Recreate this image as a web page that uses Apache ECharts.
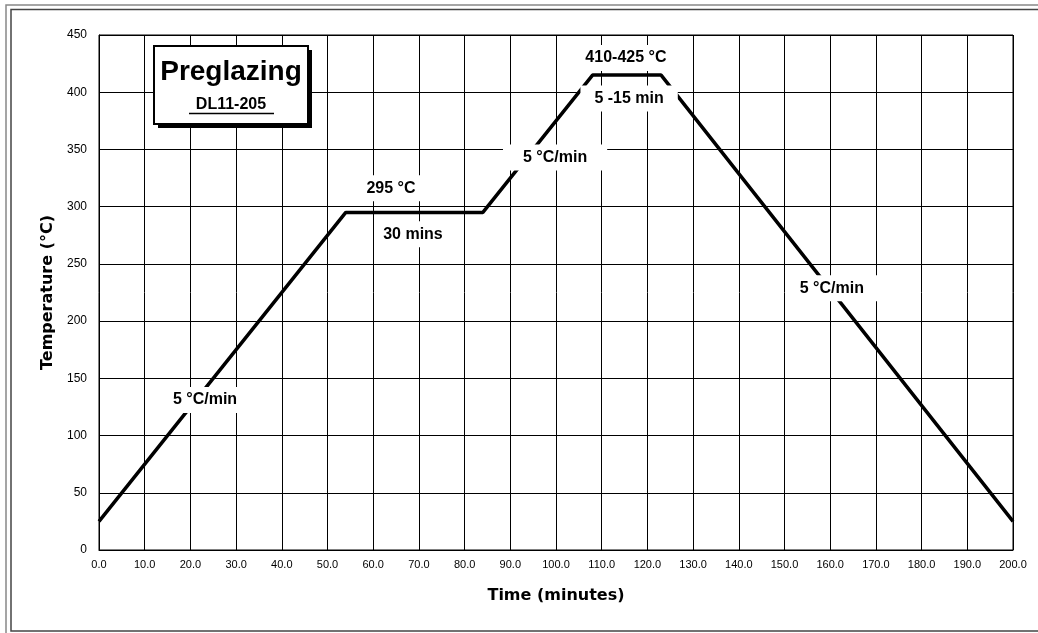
<!DOCTYPE html>
<html>
<head>
<meta charset="utf-8">
<script src="https://cdn.jsdelivr.net/npm/echarts@6/dist/echarts.min.js"></script>
<style>
html,body{margin:0;padding:0;background:#fff;}
#chart{width:1038px;height:633px;}
</style>
</head>
<body>
<div id="chart"></div>
<script>
// ---- data ----
const times = [0, 54, 84, 108, 123, 200];
const temps = [25, 295, 295, 415, 415, 25];

const noteTexts = ['5 °C/min', '295 °C', '30 mins', '5 °C/min', '410-425 °C', '5 -15 min', '5 °C/min'];
const noteTimes = [23.2, 63.9, 68.7, 99.8, 115.3, 116.0, 164.3];
const noteTemps = [131, 316, 276, 343, 430, 394.5, 228.7];

const xRange = [0, 200];
const xStep = 10;
const yRange = [0, 450];
const yStep = 50;

const titleText = 'Preglazing';
const subtitleText = 'DL11-205';
const xName = 'Time (minutes)';
const yName = 'Temperature (°C)';

// ---- chart ----
const chart = echarts.init(document.getElementById('chart'), null, {renderer: 'canvas'});

const notePadding = [[5, 6], [5, 6], [5, 6], [5, 20], [5, 10], [5, 14], [5, 40, 5, 4]];

const option = {
  animation: false,
  backgroundColor: '#fff',
  grid: {left: 99, right: 25, top: 35, bottom: 83, show: true, borderColor: '#000', borderWidth: 1},
  xAxis: {
    type: 'value', min: xRange[0], max: xRange[1], interval: xStep,
    name: xName, nameLocation: 'middle', nameGap: 38,
    nameTextStyle: {fontFamily: 'DejaVu Sans', fontWeight: 'bold', fontSize: 16, color: '#000'},
    axisLine: {show: true, lineStyle: {color: '#000', width: 1}},
    axisTick: {show: false},
    axisLabel: {
      fontFamily: 'Liberation Sans', fontSize: 11, color: '#000', margin: 9,
      formatter: v => v.toFixed(1)
    },
    splitLine: {show: true, lineStyle: {color: '#000', width: 1}}
  },
  yAxis: {
    type: 'value', min: yRange[0], max: yRange[1], interval: yStep,
    name: yName, nameLocation: 'middle', nameGap: 42, nameRotate: 90,
    nameTextStyle: {fontFamily: 'DejaVu Sans', fontWeight: 'bold', fontSize: 16, color: '#000'},
    axisLine: {show: true, lineStyle: {color: '#000', width: 1}},
    axisTick: {show: false},
    axisLabel: {fontFamily: 'Liberation Sans', fontSize: 12, color: '#000', margin: 12},
    splitLine: {show: true, lineStyle: {color: '#000', width: 1}}
  },
  series: [
    {
      type: 'line',
      data: times.map((t, i) => [t, temps[i]]),
      symbol: 'none',
      lineStyle: {color: '#000', width: 3.5},
      z: 3
    },
    {
      type: 'scatter',
      symbolSize: 0,
      z: 10,
      itemStyle: {opacity: 1, color: '#000'},
      data: noteTexts.map((txt, i) => ({
        value: [noteTimes[i], noteTemps[i]],
        name: txt,
        label: {padding: notePadding[i]}
      })),
      label: {
        show: true, position: 'inside',
        formatter: p => p.name,
        fontFamily: 'Liberation Sans', fontWeight: 'bold', fontSize: 16, color: '#000',
        textBorderWidth: 0, textBorderColor: 'transparent',
        backgroundColor: '#fff', opacity: 1
      },
      emphasis: {disabled: true},
      silent: true
    }
  ],
  graphic: [
    // page frame
    {type: 'rect', shape: {x: 6, y: 5, width: 1100, height: 700}, style: {fill: null, stroke: '#888', lineWidth: 1.5}, silent: true},
    {type: 'rect', shape: {x: 11, y: 9.5, width: 1100, height: 621.5}, style: {fill: null, stroke: '#444', lineWidth: 1.5}, silent: true},
    // title box shadow + box
    {type: 'rect', shape: {x: 158, y: 50, width: 154, height: 78}, style: {fill: '#000'}, z: 20},
    {type: 'rect', shape: {x: 154, y: 46, width: 154, height: 78}, style: {fill: '#fff', stroke: '#000', lineWidth: 2}, z: 21},
    {type: 'text', x: 231, y: 72, style: {text: titleText, font: 'bold 28px "Liberation Sans", Arial', fill: '#000', align: 'center', verticalAlign: 'middle'}, z: 22},
    {type: 'text', x: 231, y: 105, style: {text: subtitleText, font: 'bold 16px "Liberation Sans", Arial', fill: '#000', align: 'center', verticalAlign: 'middle'}, z: 22},
    {type: 'line', shape: {x1: 189, y1: 113.5, x2: 274, y2: 113.5}, style: {stroke: '#000', lineWidth: 1.5}, z: 22}
  ]
};

chart.setOption(option);
</script>
</body>
</html>
